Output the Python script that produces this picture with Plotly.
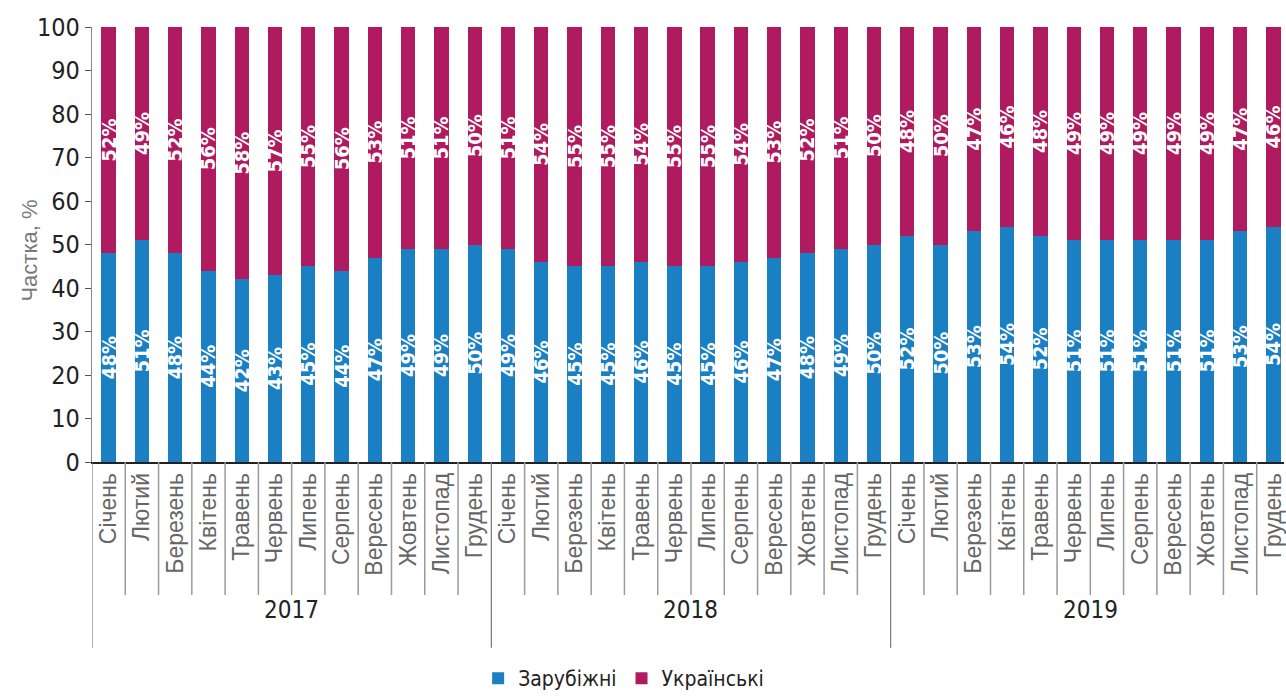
import plotly.graph_objects as go

# Monthly shares of foreign vs Ukrainian products, 2017-2019
years = ["2017", "2018", "2019"]
months = ["Січень", "Лютий", "Березень", "Квітень", "Травень", "Червень",
          "Липень", "Серпень", "Вересень", "Жовтень", "Листопад", "Грудень"]

foreign = [48, 51, 48, 44, 42, 43, 45, 44, 47, 49, 49, 50,
           49, 46, 45, 45, 46, 45, 45, 46, 47, 48, 49, 50,
           52, 50, 53, 54, 52, 51, 51, 51, 51, 51, 53, 54]
ukrainian = [52, 49, 52, 56, 58, 57, 55, 56, 53, 51, 51, 50,
             51, 54, 55, 55, 54, 55, 55, 54, 53, 52, 51, 50,
             48, 50, 47, 46, 48, 49, 49, 49, 49, 49, 47, 46]

BLUE = "#1b7fc3"
MAGENTA = "#b01a5f"
NARROW = "DejaVu Sans Condensed, Liberation Sans Narrow, sans-serif"
REGULAR = "Liberation Sans, Arial, sans-serif"

labels = months * len(years)
x = list(range(len(labels)))

fig = go.Figure()
for name, vals, color in [("Зарубіжні", foreign, BLUE),
                          ("Українські", ukrainian, MAGENTA)]:
    fig.add_trace(go.Bar(
        x=x, y=vals, name=name, marker=dict(color=color, line=dict(width=0)),
        width=0.43,
        text=[f"{v}%" for v in vals],
        textposition="inside", insidetextanchor="middle", textangle=-90,
        constraintext="none",
        insidetextfont=dict(family=NARROW, size=20, color="white", weight="bold"),
        hoverinfo="name+y",
    ))

# plot area geometry (pixels) used to express offsets below the axis
plot_w = 1286 - 92
plot_h = 699 - 27 - 234
sep_bottom = -(599 - 465) / plot_h
year_bottom = -(652 - 465) / plot_h
year_label_y = -(630 - 465) / plot_h

shapes = []
for i in range(len(labels)):
    if i % 12 == 0:
        continue
    shapes.append(dict(type="line", xref="x", yref="paper",
                       x0=i - 0.5, x1=i - 0.5, y0=0, y1=sep_bottom,
                       line=dict(color="#9a9a9a", width=1.5)))
for k in range(len(years)):
    xb = k * 12 - 0.5
    shapes.append(dict(type="line", xref="x", yref="paper",
                       x0=xb, x1=xb, y0=0, y1=year_bottom,
                       line=dict(color="#777777", width=1.2)))

annotations = [dict(x=k * 12 + 5.5, y=year_label_y, xref="x", yref="paper",
                    text=yr, showarrow=False,
                    font=dict(family=NARROW, size=24, color="#222222"))
               for k, yr in enumerate(years)]
annotations.append(dict(x=(29 - 92) / plot_w, y=(465 - 252) / plot_h,
                        xref="paper", yref="paper", text="Частка, %",
                        textangle=-90, showarrow=False,
                        xanchor="center", yanchor="middle",
                        font=dict(family=REGULAR, size=22, color="#7a7a7a")))

fig.update_layout(
    barmode="stack",
    width=1286, height=699,
    margin=dict(l=92, r=0, t=27, b=234),
    paper_bgcolor="white", plot_bgcolor="white",
    shapes=shapes, annotations=annotations,
    showlegend=True,
    legend=dict(orientation="h", x=0.446, xanchor="center",
                y=-0.498, yanchor="middle",
                font=dict(family=NARROW, size=21, color="#222222"),
                itemwidth=30, traceorder="normal"),
    xaxis=dict(
        tickmode="array", tickvals=x, ticktext=labels, tickangle=-90,
        range=[-0.5, 35.32], showgrid=False, zeroline=False,
        showline=True, linecolor="#222222", linewidth=1.5,
        ticks="", ticklabeloverflow="allow",
        tickfont=dict(family=REGULAR, size=23, color="#666666"),
    ),
    yaxis=dict(
        range=[0, 100], tickvals=list(range(0, 101, 10)),
        showgrid=False, zeroline=False,
        showline=True, linecolor="#888888", linewidth=1.2,
        ticks="outside", ticklen=6, tickcolor="#555555",
        tickfont=dict(family=NARROW, size=25, color="#222222"),
    ),
)

fig.write_html("out.html")
